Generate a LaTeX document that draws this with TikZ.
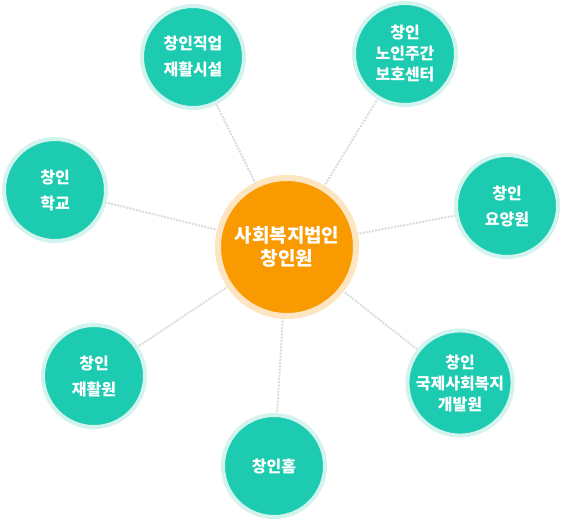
\documentclass[tikz,border=0pt]{standalone}
\usepackage{fontspec}
\setmainfont{Noto Sans CJK KR}
\usetikzlibrary{backgrounds}
\definecolor{hubcol}{HTML}{F99A00}
\definecolor{hubring}{HTML}{FDE5C2}
\definecolor{satcol}{HTML}{1DCBB1}
\definecolor{satring}{HTML}{D3F3EE}
\definecolor{linkcol}{HTML}{DCDCDC}
\tikzset{
  hub/.style={circle, fill=hubcol, draw=hubring, line width=6pt, minimum size=138pt,
    inner sep=0pt, text=white, align=center, font=\fontsize{19}{23}\selectfont\bfseries},
  sat/.style={circle, fill=satcol, draw=satring, line width=4pt, minimum size=102pt,
    inner sep=0pt, text=white, align=center, font=\fontsize{16}{26}\selectfont\bfseries},
  satthree/.style={sat, font=\fontsize{16}{21}\selectfont\bfseries},
  link/.style={linkcol, line width=2pt, dash pattern=on 2pt off 1.2pt}
}
\begin{document}
\begin{tikzpicture}[x=1pt,y=-1pt]
  \useasboundingbox (0,0) rectangle (562,523);

  % Central node
  \node[hub] (hub) at (287,247) {사회복지법인\\창인원};

  % Satellite facilities
  \node[sat] (job) at (193,57) {창인직업\\재활시설};
  \node[satthree] (daycare) at (405,54) {창인\\노인주간\\보호센터};
  \node[sat] (school) at (55,190) {창인\\학교};
  \node[sat] (nursing) at (507,206) {창인\\요양원};
  \node[sat] (rehab) at (94,376) {창인\\재활원};
  \node[satthree] (intl) at (460,383) {창인\\국제사회복지\\개발원};
  \node[sat] (home) at (274,466) {창인홈};

  % Dotted links behind the circles
  \begin{scope}[on background layer]
    \foreach \s in {job, daycare, school, nursing, rehab, intl, home}
      \draw[link] (hub.center) -- (\s.center);
  \end{scope}
\end{tikzpicture}
\end{document}
